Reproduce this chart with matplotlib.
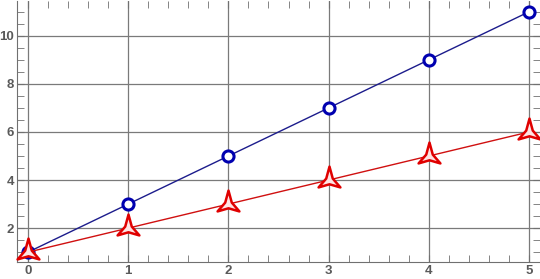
import matplotlib
matplotlib.use("Agg")
import matplotlib.pyplot as plt
from matplotlib.path import Path
from matplotlib.ticker import MultipleLocator
import numpy as np

# data
x_vals = [0, 1, 2, 3, 4, 5]
blue_vals = [1, 3, 5, 7, 9, 11]
red_vals = [1, 2, 3, 4, 5, 6]
x_ticks = [0, 1, 2, 3, 4, 5]
y_ticks = [2, 4, 6, 8, 10]

# three pointed star marker (concave sides)
pts = []
for k in range(3):
    a_out = np.deg2rad(90 + 120 * k)
    a_in = np.deg2rad(150 + 120 * k)
    pts.append((np.cos(a_out), np.sin(a_out) * 1.1))
    pts.append((0.3 * np.cos(a_in), 0.3 * np.sin(a_in)))
pts.append(pts[0])
codes = [Path.MOVETO] + [Path.LINETO] * (len(pts) - 2) + [Path.CLOSEPOLY]
star = Path(pts, codes)

plt.rcParams["font.family"] = ["Liberation Sans", "DejaVu Sans"]

fig = plt.figure(figsize=(5.4, 2.79), dpi=100)
ax = fig.add_axes([17 / 540, 17 / 279, 523 / 540, 261 / 279])

ax.plot(x_vals, blue_vals, color="#1c1c8c", lw=1.0, marker="o", ms=8,
        mfc="white", mec="#0000b0", mew=2.2, zorder=3, clip_on=False)
ax.plot(x_vals, red_vals, color="#d01010", lw=1.0, marker=star, ms=20,
        mfc="#ffe4e4", mec="#e00000", mew=1.8, zorder=4, clip_on=False)

ax.set_xlim(-0.11, 5.11)
ax.set_ylim(0.59, 11.45)
ax.set_xticks(x_ticks)
ax.set_yticks(y_ticks)
ax.xaxis.set_minor_locator(MultipleLocator(0.2))
ax.yaxis.set_minor_locator(MultipleLocator(0.5))
ax.grid(True, which="major", color="#7a7a7a", lw=0.9)
ax.set_axisbelow(True)

for s in ["left", "bottom"]:
    ax.spines[s].set_color("#707070")
for s in ["right", "top"]:
    ax.spines[s].set_visible(False)
ax.tick_params(which="both", direction="in", top=True, right=True,
               color="#707070", labelcolor="#5a5a5a", labelsize=9.5, pad=2)
ax.tick_params(which="major", length=5)
ax.tick_params(which="minor", length=5)
for lab in ax.get_xticklabels() + ax.get_yticklabels():
    lab.set_fontweight("bold")

fig.savefig("out.png", dpi=100)
